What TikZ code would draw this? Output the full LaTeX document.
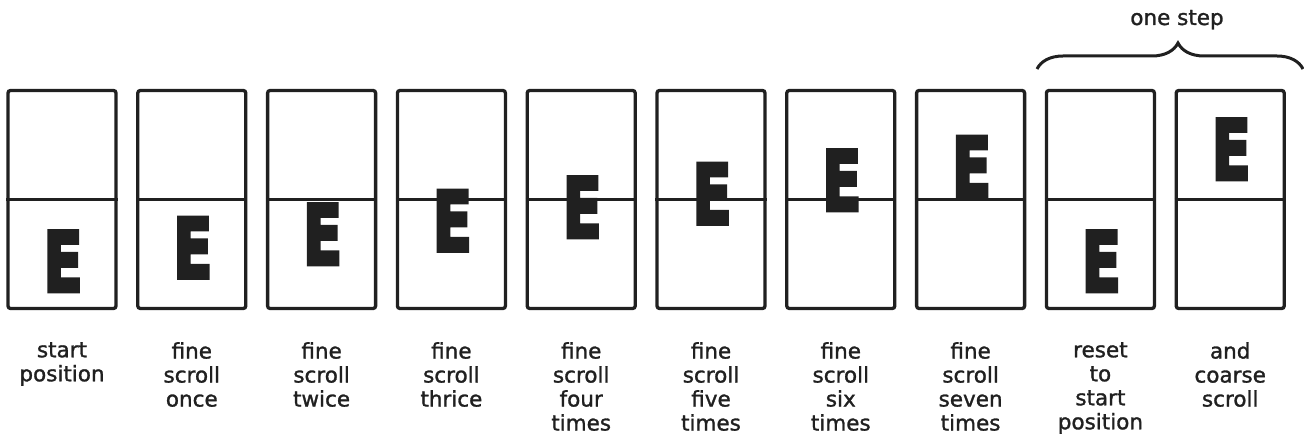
\documentclass[tikz,border=0pt]{standalone}
\usepackage{fontspec}
\usepackage{graphicx}
\setmainfont{DejaVu Sans}
\newfontfamily\capfont[FakeBold=1.3]{DejaVu Sans}
\newfontfamily\efont[BoldFont={DejaVu Sans Bold},BoldFeatures={FakeBold=5}]{DejaVu Sans}
\usetikzlibrary{decorations.pathreplacing}
\definecolor{ink}{RGB}{32,32,32}
\tikzset{
  panel/.style={draw=ink, line width=3.3pt, rounded corners=2.5pt, minimum width=108pt, minimum height=218pt, inner sep=0pt},
  midline/.style={draw=ink, line width=3.3pt},
  letter/.style={inner sep=0pt, anchor=north, text=ink},
  caption/.style={inner sep=0pt, anchor=north, align=center, text=ink, font=\capfont\fontsize{21.5}{24}\selectfont},
  bracestyle/.style={draw=ink, line width=3pt, decorate, decoration={brace, amplitude=26pt, aspect=0.53}}
}
\newcommand{\bigE}{\resizebox{39pt}{60pt}{\efont\bfseries E}}
\begin{document}
\begin{tikzpicture}[x=1pt,y=-1pt]
\useasboundingbox (0,0) rectangle (1304,435);
% panels
\foreach \i/\ey/\lab in {
  0/231/{start\\position},
  1/217.5/{fine\\scroll\\once},
  2/204/{fine\\scroll\\twice},
  3/190.5/{fine\\scroll\\thrice},
  4/177/{fine\\scroll\\four\\times},
  5/163.5/{fine\\scroll\\five\\times},
  6/150/{fine\\scroll\\six\\times},
  7/136.5/{fine\\scroll\\seven\\times},
  8/231/{reset\\to\\start\\position},
  9/119/{and\\coarse\\scroll}}{
  \pgfmathsetmacro{\cx}{62+129.8*\i}
  \node[panel] (p\i) at (\cx,199.5) {};
  \draw[midline] (p\i.west) -- (p\i.east);
  \node[letter] (e\i) at (\cx+1,\ey) {\bigE};
  \node[caption] (t\i) at (\cx,342) {\lab};
}
\coordinate (bl) at (1037,69);
\coordinate (br) at (1303,69);
\draw[bracestyle] (bl) -- (br);
\node[inner sep=0pt, text=ink, font=\capfont\fontsize{21.5}{24}\selectfont, anchor=base] (step) at (1177,25) {one step};
\end{tikzpicture}
\end{document}
